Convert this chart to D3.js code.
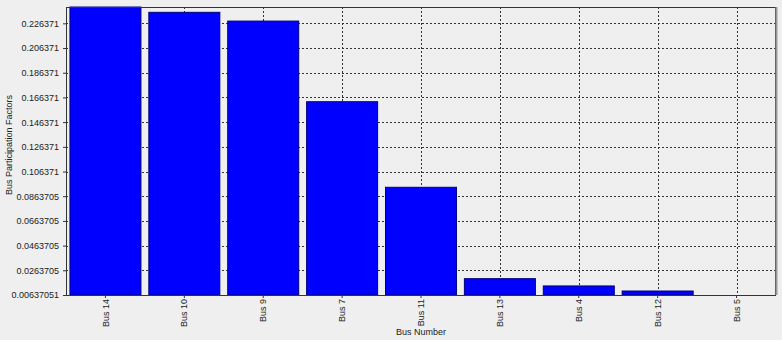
<!DOCTYPE html>
<html>
<head>
    <script src="https://cdnjs.cloudflare.com/ajax/libs/d3/7.8.5/d3.min.js"></script>
    <style>
        body { margin: 0; background: #efefef; }
        text { font-family: Arial, "Liberation Sans", sans-serif; fill: #222; }
        .grid line { stroke: #333; stroke-dasharray: 2,2; stroke-width: 1; }
    </style>
</head>
<body>
    <div id="chart"></div>
    <script>
        const width = 782, height = 340;
        const margin = { top: 7, right: 6, bottom: 45, left: 66 };

        const buses = ["Bus 14", "Bus 10", "Bus 9", "Bus 7", "Bus 11", "Bus 13", "Bus 4", "Bus 12", "Bus 5"];
        const factors = [0.2396, 0.2353, 0.2282, 0.1629, 0.0936, 0.0196, 0.0137, 0.0096, 0.00637051];
        const yTicks = [0.00637051, 0.0263705, 0.0463705, 0.0663705, 0.0863705, 0.106371, 0.126371, 0.146371, 0.166371, 0.186371, 0.206371, 0.226371];
        const yTickLabels = ["0.00637051", "0.0263705", "0.0463705", "0.0663705", "0.0863705", "0.106371", "0.126371", "0.146371", "0.166371", "0.186371", "0.206371", "0.226371"];

        const svg = d3.select("#chart").append("svg").attr("width", width).attr("height", height);
        svg.append("rect").attr("width", width).attr("height", height).attr("fill", "#efefef");

        const x = d3.scaleBand().domain(buses).range([margin.left, width - margin.right]).paddingInner(0.1).paddingOuter(0.05);
        const y = d3.scaleLinear().domain([d3.min(factors), d3.max(factors)]).range([height - margin.bottom, margin.top]);

        // grid
        const grid = svg.append("g").attr("class", "grid");
        grid.selectAll(".h").data(yTicks.slice(1)).enter().append("line")
            .attr("x1", margin.left).attr("x2", width - margin.right)
            .attr("y1", d => Math.round(y(d)) + 0.5).attr("y2", d => Math.round(y(d)) + 0.5);
        grid.selectAll(".v").data(buses).enter().append("line")
            .attr("x1", d => Math.round(x(d) + x.bandwidth() / 2) + 0.5).attr("x2", d => Math.round(x(d) + x.bandwidth() / 2) + 0.5)
            .attr("y1", margin.top).attr("y2", height - margin.bottom);

        // bars
        svg.append("g").selectAll("rect").data(factors).enter().append("rect")
            .attr("x", (d, i) => x(buses[i]))
            .attr("width", x.bandwidth())
            .attr("y", d => y(d))
            .attr("height", d => y.range()[0] - y(d))
            .attr("fill", "#0000ff")
            .attr("stroke", "#00007a")
            .attr("stroke-width", 1);

        // frame
        svg.append("rect")
            .attr("x", margin.left + 0.5).attr("y", margin.top + 0.5)
            .attr("width", width - margin.left - margin.right - 1)
            .attr("height", height - margin.top - margin.bottom)
            .attr("fill", "none").attr("stroke", "#333");
        svg.append("line")
            .attr("x1", width - margin.right + 0.5).attr("x2", width - margin.right + 0.5)
            .attr("y1", margin.top).attr("y2", height - margin.bottom)
            .attr("stroke", "#999").attr("stroke-width", 2);

        // y axis
        const yAxis = d3.axisLeft(y).tickValues(yTicks).tickSize(3).tickFormat((d, i) => yTickLabels[i]);
        const gy = svg.append("g").attr("transform", `translate(${margin.left},0)`).call(yAxis);
        gy.select(".domain").remove();
        gy.selectAll("text").attr("font-size", 9).attr("font-family", "Arial, 'Liberation Sans', sans-serif").attr("fill", "#333").attr("dx", "-1");
        gy.selectAll("line").attr("stroke", "#333");

        // x axis
        const xAxis = d3.axisBottom(x).tickSize(3);
        const gx = svg.append("g").attr("transform", `translate(0,${height - margin.bottom})`).call(xAxis);
        gx.select(".domain").remove();
        gx.selectAll("line").attr("stroke", "#333");
        gx.selectAll("text")
            .attr("font-size", 9).attr("font-family", "Arial, 'Liberation Sans', sans-serif").attr("fill", "#333")
            .attr("transform", "rotate(-90)")
            .attr("text-anchor", "end")
            .attr("x", -4).attr("y", 0).attr("dy", "0.35em");

        // titles
        svg.append("text").attr("x", (margin.left + width - margin.right) / 2).attr("y", 335)
            .attr("text-anchor", "middle").attr("font-size", 9).attr("fill", "#333").text("Bus Number");
        svg.append("text").attr("transform", `translate(12,145) rotate(-90)`)
            .attr("text-anchor", "middle").attr("font-size", 9).attr("fill", "#333").text("Bus Participation Factors");
    </script>
</body>
</html>
